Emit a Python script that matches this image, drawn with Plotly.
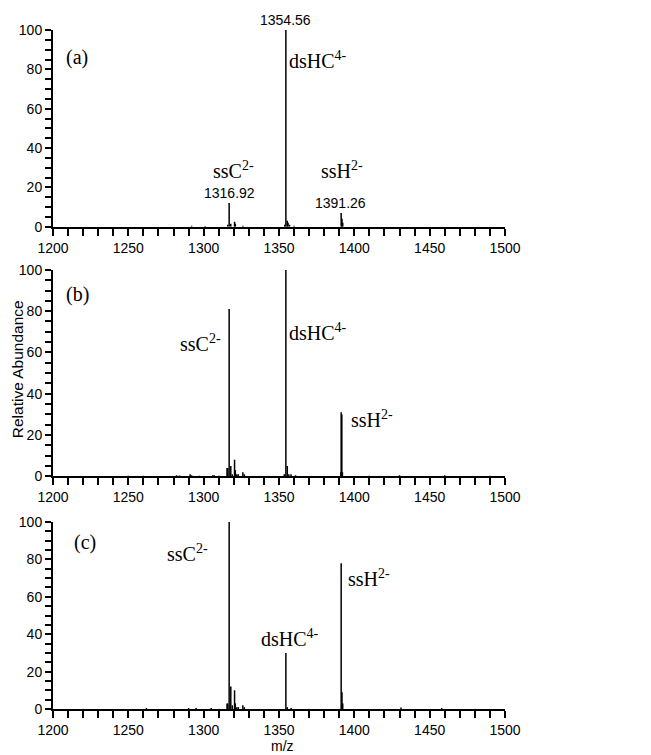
import plotly.graph_objects as go

# ---- data (m/z, relative abundance) ----
mz_a = [1292.0, 1301.0, 1316.0, 1316.92, 1318.0, 1320.5, 1321.0, 1326.0,
        1353.8, 1354.56, 1355.5, 1356.0, 1357.0, 1360.0,
        1391.26, 1391.8, 1392.3]
ab_a = [0.5, 0.3, 1.0, 12.0, 1.5, 2.5, 1.5, 0.5,
        1.0, 100.0, 3.0, 2.0, 1.0, 0.5,
        7.0, 4.0, 2.0]

mz_b = [1250.0, 1260.0, 1282.0, 1284.0, 1291.0, 1292.0, 1297.0, 1306.0, 1307.0, 1310.0,
        1315.5, 1316.0, 1316.92, 1318.0, 1319.0, 1320.5, 1321.0, 1322.0, 1323.0, 1326.0, 1327.0,
        1353.5, 1354.56, 1355.5, 1356.5, 1358.0, 1361.0,
        1391.0, 1391.26, 1391.7, 1392.1,
        1410.0, 1430.0, 1460.0, 1490.0]
ab_b = [0.3, 0.3, 0.5, 0.4, 1.0, 0.5, 0.3, 0.5, 0.5, 0.3,
        4.0, 4.0, 81.0, 5.0, 1.0, 8.0, 3.0, 1.0, 1.0, 2.0, 1.0,
        1.0, 100.0, 5.0, 1.0, 1.0, 0.5,
        2.0, 31.0, 30.0, 2.0,
        0.3, 0.5, 0.5, 0.3]

mz_c = [1262.0, 1290.0, 1295.0, 1305.0,
        1315.5, 1316.0, 1316.92, 1318.0, 1319.0, 1320.5, 1321.0, 1322.0, 1323.0, 1326.0, 1327.0,
        1354.56, 1355.5, 1358.0,
        1391.26, 1391.8, 1392.3,
        1431.0, 1458.0]
ab_c = [0.5, 0.5, 0.5, 0.5,
        3.0, 3.0, 100.0, 12.0, 2.0, 10.0, 3.0, 1.0, 1.0, 2.0, 1.0,
        30.0, 1.0, 0.5,
        78.0, 9.0, 3.0,
        0.8, 0.5]

panels = ["(a)", "(b)", "(c)"]
x_ticks = [1200, 1250, 1300, 1350, 1400, 1450, 1500]
y_ticks = [0, 20, 40, 60, 80, 100]

# label text, x, y  per panel
labels_a = [("dsHC<sup>4-</sup>", 1376, 85), ("ssC<sup>2-</sup>", 1319.5, 29), ("ssH<sup>2-</sup>", 1392, 29)]
labels_b = [("ssC<sup>2-</sup>", 1297.6, 64.5), ("dsHC<sup>4-</sup>", 1376, 70), ("ssH<sup>2-</sup>", 1411.7, 28)]
labels_c = [("ssC<sup>2-</sup>", 1289, 83.5), ("dsHC<sup>4-</sup>", 1357, 38), ("ssH<sup>2-</sup>", 1410, 70)]
peak_marks_a = [("1354.56", 1354.56, 100), ("1316.92", 1317, 12), ("1391.26", 1391, 7)]

def stems(xs, ys):
    px, py = [], []
    for x, y in zip(xs, ys):
        px += [x, x, None]
        py += [0, y, None]
    return px, py

fig = go.Figure()
data = [(mz_a, ab_a), (mz_b, ab_b), (mz_c, ab_c)]
domains = [[0.7103, 1.0], [0.3427, 0.6467], [0.0, 0.2754]]
sans = "Liberation Sans, Arial, sans-serif"
tickfont = dict(family=sans, size=14, color="black")
serif = dict(family="Liberation Serif, Times New Roman, serif", size=20, color="black")

for i, (xs, ys) in enumerate(data):
    n = "" if i == 0 else str(i + 1)
    px, py = stems(xs, ys)
    fig.add_trace(go.Scatter(x=px, y=py, mode="lines", line=dict(color="black", width=1.5),
                             xaxis="x" + n, yaxis="y" + n, showlegend=False, hoverinfo="skip"))
    fig.layout["xaxis" + n] = dict(
        domain=[0, 1], anchor="y" + n, range=[1200, 1500], tickvals=x_ticks,
        ticks="outside", ticklen=7, tickwidth=1.5, tickcolor="black",
        showline=True, linecolor="black", linewidth=2, showgrid=False, zeroline=False,
        tickfont=tickfont,
        minor=dict(dtick=10, tick0=1200, ticks="outside", ticklen=7, tickwidth=1.5, tickcolor="black", showgrid=False),
    )
    fig.layout["yaxis" + n] = dict(
        domain=domains[i], anchor="x" + n, range=[0, 100], tickvals=y_ticks,
        ticks="outside", ticklen=6, tickwidth=1.5, tickcolor="black",
        showline=True, linecolor="black", linewidth=2, showgrid=False, zeroline=False,
        tickfont=tickfont,
        minor=dict(dtick=5, tick0=0, ticks="outside", ticklen=6, tickwidth=1.5, tickcolor="black", showgrid=False),
    )

ann = []
panel_pos = [(1216, 86), (1216, 88), (1221, 89)]
for i, (lab, (x, y)) in enumerate(zip(panels, panel_pos)):
    n = "" if i == 0 else str(i + 1)
    ann.append(dict(text=lab, x=x, y=y, xref="x" + n, yref="y" + n, showarrow=False, font=serif))
for i, labs in enumerate([labels_a, labels_b, labels_c]):
    n = "" if i == 0 else str(i + 1)
    for t, x, y in labs:
        ann.append(dict(text=t, x=x, y=y, xref="x" + n, yref="y" + n, showarrow=False, font=serif))
for t, x, y in peak_marks_a:
    ann.append(dict(text=t, x=x, y=y, xref="x", yref="y", showarrow=False, yanchor="bottom", yshift=0,
                    font=tickfont))
ann.append(dict(text="Relative Abundance", x=-0.078, y=0.5, xref="paper", yref="paper", textangle=-90,
                xanchor="center", showarrow=False,
                font=dict(family=sans, size=15.5, color="black")))
ann.append(dict(text="m/z", x=0.507, xref="paper", y=-0.054, yref="paper", yanchor="middle", showarrow=False,
                font=dict(family=sans, size=14, color="black")))

fig.update_layout(
    width=651, height=755, margin=dict(l=45, r=154, t=22, b=54),
    plot_bgcolor="white", paper_bgcolor="white", annotations=ann, showlegend=False,
)
fig.write_html("out.html")
